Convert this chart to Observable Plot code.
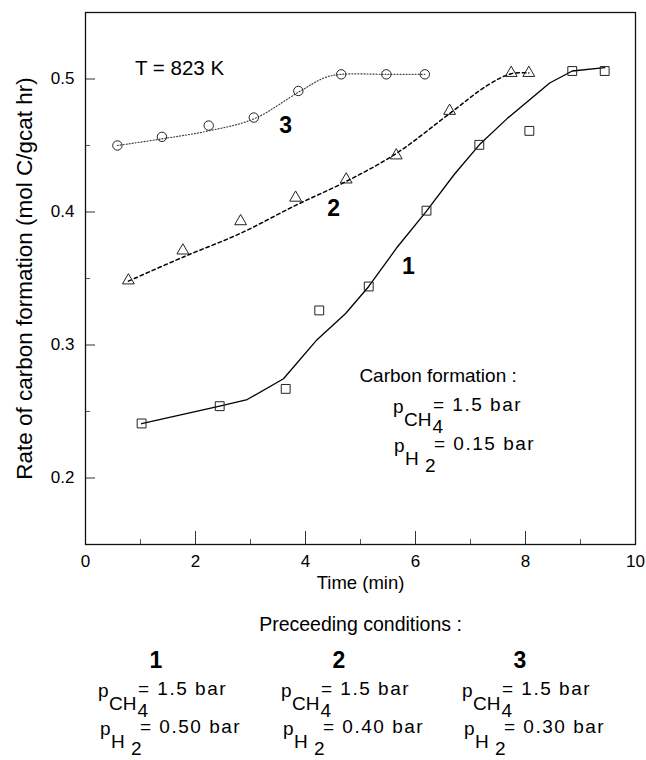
<!DOCTYPE html>
<html><head><meta charset="utf-8">
<script src="https://cdn.jsdelivr.net/npm/d3@7"></script>
<script src="https://cdn.jsdelivr.net/npm/@observablehq/plot@0.6"></script>
<style>
body{margin:0;background:#fff}
svg{font-family:"Liberation Sans",Arial,Helvetica,sans-serif}
</style>
</head><body><div id="chart"></div>
<script>
// ---- data: measured points ----
const t1 = [1.02, 2.44, 3.64, 4.25, 5.15, 6.2, 7.16, 8.07, 8.85, 9.44];
const v1 = [0.241, 0.254, 0.267, 0.326, 0.344, 0.401, 0.4505, 0.461, 0.506, 0.506];
const t2 = [0.78, 1.77, 2.82, 3.82, 4.74, 5.65, 6.62, 7.74, 8.06];
const v2 = [0.3485, 0.371, 0.393, 0.4107, 0.4244, 0.4425, 0.476, 0.5045, 0.5045];
const t3 = [0.58, 1.39, 2.24, 3.06, 3.87, 4.65, 5.47, 6.17];
const v3 = [0.45, 0.4565, 0.465, 0.471, 0.491, 0.5035, 0.5035, 0.5035];
// ---- data: fitted curves ----
const f1t = [1.02, 2.44, 2.94, 3.6, 4.21, 4.73, 5.15, 5.67, 6.2, 6.7, 7.16, 7.67, 8.44, 8.85, 9.44];
const f1v = [0.2408, 0.254, 0.259, 0.2746, 0.304, 0.3237, 0.344, 0.3737, 0.4007, 0.428, 0.4505, 0.4704, 0.497, 0.506, 0.5085];
const f2t = [0.78, 1.77, 2.82, 3.82, 4.74, 5.65, 6.62, 7.3, 7.74, 8.06];
const f2v = [0.348, 0.366, 0.384, 0.405, 0.423, 0.444, 0.474, 0.495, 0.504, 0.5045];
const f3t = [0.58, 1.39, 2.24, 3.06, 3.87, 4.35, 4.65, 5.47, 6.17];
const f3v = [0.45, 0.455, 0.461, 0.470, 0.490, 0.501, 0.5035, 0.5035, 0.5035];
// ---- ticks ----
const xLabels = [0, 2, 4, 6, 8, 10];
const xMajor = [2, 4, 6, 8];
const xMinor = [1, 3, 5, 7, 9];
const yLabels = [0.2, 0.3, 0.4, 0.5];
const yMinor = [0.25, 0.35, 0.45];
// ---- text ----
const curveLabels = ["1", "2", "3"];
const curveLabelT = [5.87, 4.51, 3.64];
const curveLabelV = [0.359, 0.4027, 0.465];
const condCH4 = ["1.5", "1.5", "1.5"];
const condH2 = ["0.50", "0.40", "0.30"];

const pts = (t, v) => t.map((x, i) => ({x, y: v[i]}));
const W = 646, H = 760, mL = 85, mR = 11, mT = 12, mB = 216;
const pW = W - mL - mR, pH = H - mT - mB;
const font = "Liberation Sans, Arial, sans-serif";

const plot = Plot.plot({
  width: W, height: H,
  marginLeft: mL, marginRight: mR, marginTop: mT, marginBottom: mB,
  style: {fontFamily: font, fontSize: "17px", background: "#fff", color: "#000", overflow: "visible"},
  x: {domain: [0, 10]},
  y: {domain: [0.15, 0.55]},
  marks: [
    Plot.axisX(xLabels, {tickSize: 0, tickPadding: 10, tickFormat: d => String(d), label: null, fontSize: 17}),
    Plot.axisY(yLabels, {tickSize: 0, tickPadding: 11, tickFormat: d3.format(".1f"), label: null, fontSize: 17}),
    Plot.tickX(xMajor, {x: d => d, insetTop: pH - 13, stroke: "#333"}),
    Plot.tickX(xMinor, {x: d => d, insetTop: pH - 5, stroke: "#555"}),
    Plot.tickY(yLabels, {y: d => d, insetRight: pW - 10, stroke: "#333"}),
    Plot.tickY(yMinor, {y: d => d, insetRight: pW - 5, stroke: "#555"}),
    Plot.frame({stroke: "#111", strokeWidth: 1.3}),
    // fitted curves
    Plot.line(pts(f1t, f1v), {x: "x", y: "y", stroke: "#000", strokeWidth: 1.3}),
    Plot.line(pts(f2t, f2v), {x: "x", y: "y", stroke: "#000", strokeWidth: 1.5, strokeDasharray: "3.5,3", curve: "catmull-rom"}),
    Plot.line(pts(f3t, f3v), {x: "x", y: "y", stroke: "#444", strokeWidth: 1.2, strokeDasharray: "1,2", curve: "catmull-rom"}),
    // measured points
    Plot.dot(pts(t1, v1), {x: "x", y: "y", symbol: "square", r: 5, stroke: "#222", strokeWidth: 1, fill: "none"}),
    Plot.dot(pts(t2, v2), {x: "x", y: "y", symbol: "triangle", r: 4.4, stroke: "#222", strokeWidth: 1, fill: "none"}),
    Plot.dot(pts(t3, v3), {x: "x", y: "y", symbol: "circle", r: 4.7, stroke: "#222", strokeWidth: 1, fill: "none"}),
    // curve numbers
    Plot.text(curveLabels.map((s, i) => ({s, x: curveLabelT[i], y: curveLabelV[i]})), {x: "x", y: "y", text: "s", fontSize: 23, fontWeight: "bold", fill: "#000"}),
    // annotation
    Plot.text(["T = 823 K"], {x: 0.9, y: 0.508, text: d => d, textAnchor: "start", fontSize: 20.5, fill: "#000"}),
    Plot.text(["Carbon formation :"], {x: 4.98, y: 0.277, text: d => d, textAnchor: "start", fontSize: 19, fill: "#000"}),
    // axis titles
    Plot.text(["Time (min)"], {frameAnchor: "bottom", dy: 44, text: d => d, fontSize: 18.5, fill: "#000"}),
    Plot.text(["Rate of carbon formation (mol C/gcat hr)"], {frameAnchor: "left", dx: -61, rotate: -90, textAnchor: "middle", text: d => d, fontSize: 22.5, fill: "#000"}),
    Plot.text(["Preceeding conditions :"], {frameAnchor: "bottom", dy: 86, text: d => d, fontSize: 19.5, fill: "#000"})
  ]
});
document.getElementById("chart").appendChild(plot);

const svg = d3.select(plot);
const sx = plot.scale("x"), sy = plot.scale("y");

function formula(x, y, sub, sub2, rhs, fs) {
  const g = svg.append("text").attr("font-size", fs).attr("fill", "#000").attr("text-anchor", "start");
  g.append("tspan").attr("x", x).attr("y", y).text("p");
  g.append("tspan").attr("x", x + 11).attr("y", y + 13).text(sub);
  g.append("tspan").attr("y", y + 20).attr("dx", 1).text(sub2);
  g.append("tspan").attr("x", x + 40).attr("y", y - 2).attr("letter-spacing", 1.5).text("= " + rhs + " bar");
}
// in-plot formation conditions
const fx = sx.apply(5.6);
formula(fx, sy.apply(0.2485), "CH", "4", "1.5", 19);
formula(fx + 1, sy.apply(0.219), "H", " 2", "0.15", 19);

// preceeding conditions columns
const colX = [98, 281, 462];
colX.forEach((cx, i) => {
  svg.append("text").attr("x", cx + 58).attr("y", 668).attr("text-anchor", "middle")
    .attr("font-size", 23).attr("font-weight", "bold").text(curveLabels[i]);
  formula(cx, 697, "CH", "4", condCH4[i], 19);
  formula(cx + 2, 735, "H", " 2", condH2[i], 19);
});
</script>
</body></html>
